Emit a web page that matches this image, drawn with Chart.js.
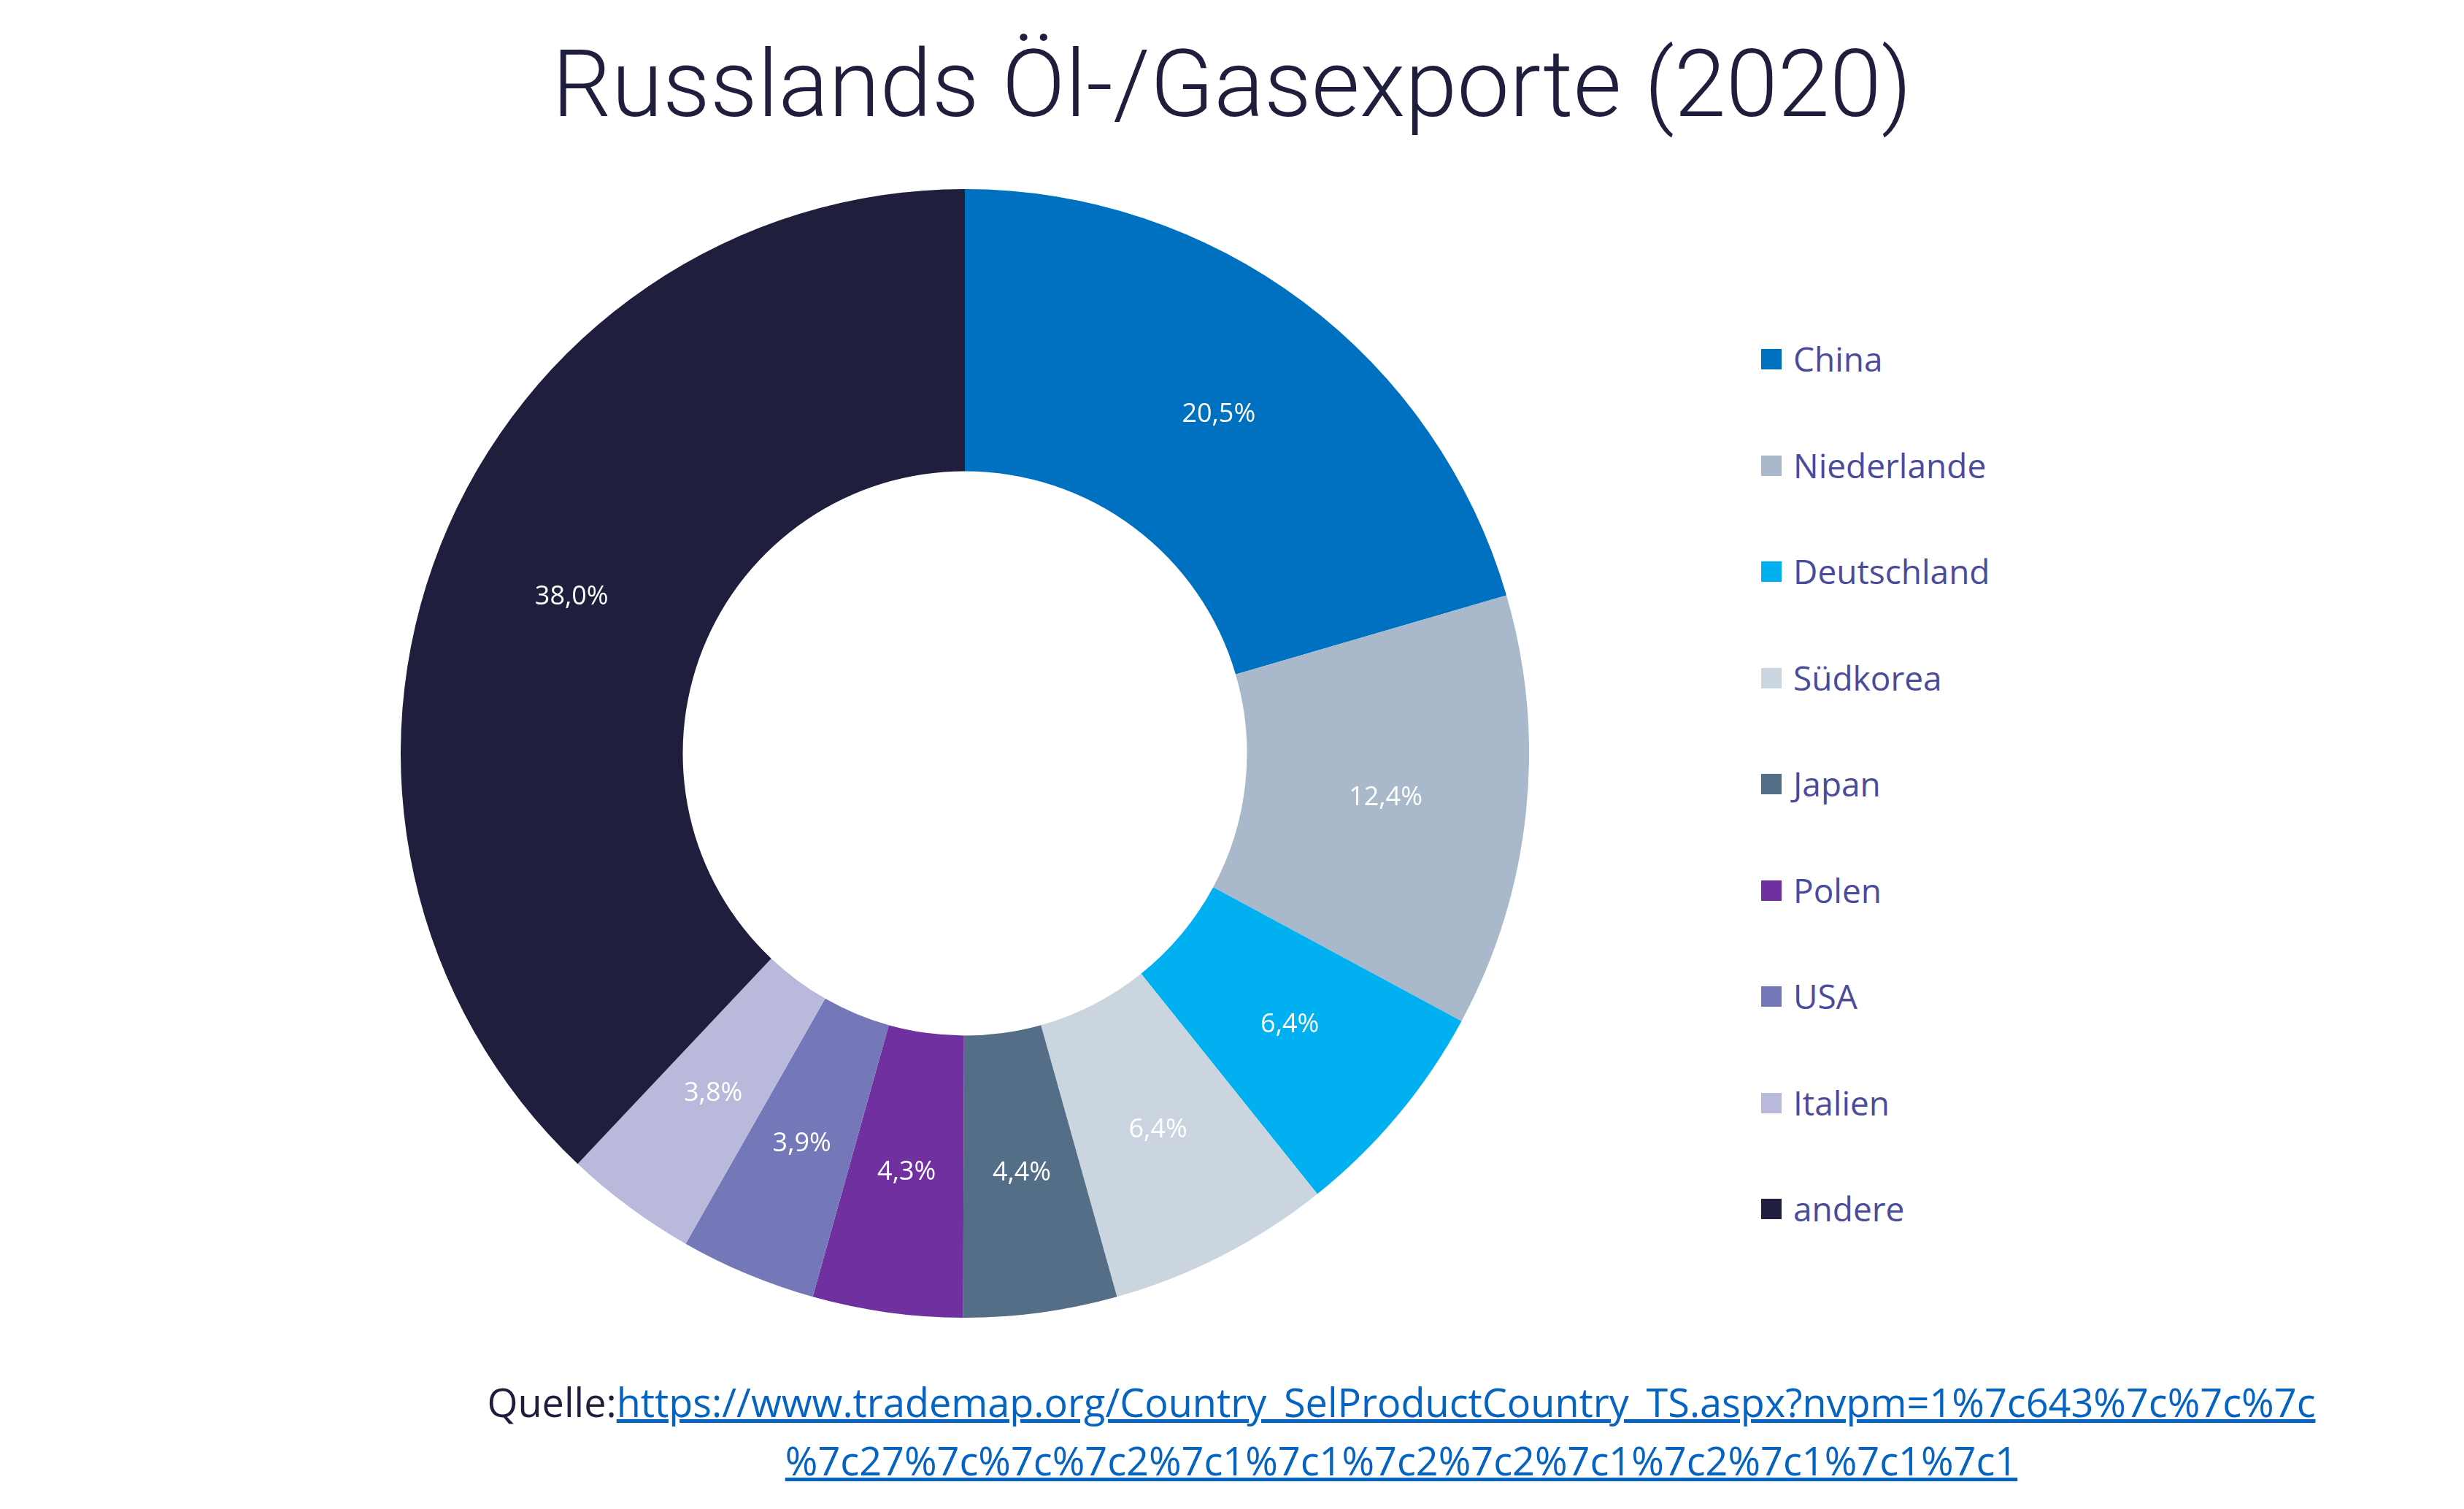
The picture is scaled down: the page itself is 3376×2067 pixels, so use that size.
<!DOCTYPE html>
<html><head><meta charset="utf-8">
<script src="https://cdn.jsdelivr.net/npm/chart.js@4"></script>
<style>
body{margin:0;width:3376px;height:2067px;background:#fff;position:relative;overflow:hidden;font-family:"Open Sans",sans-serif}
#title{position:absolute;top:40px;left:0;width:3376px;text-align:center;font-family:Roboto;font-weight:300;font-size:128px;color:#1F1F3D}
#wrap{position:absolute;left:549px;top:259px;width:1546px;height:1546px}
#legend{position:absolute;left:2413px;top:460px}
.li{height:145.5px;display:flex;align-items:flex-start;font-size:46px;color:#4B4B9B}
.sw{width:28px;height:28px;margin-right:16px;margin-top:18px}
#src{position:absolute;top:1880px;left:580px;width:2680px;text-align:center;font-size:54px;line-height:80px;color:#1F1F3D}
#src a{color:#0563C1;text-decoration:underline}
</style></head><body>
<div id="title">Russlands Öl-/Gasexporte (2020)</div>
<div id="wrap"><canvas id="c"></canvas></div>
<div id="legend"></div>
<div id="src">Quelle:<a>https://www.trademap.org/Country_SelProductCountry_TS.aspx?nvpm=1%7c643%7c%7c%7c<br>%7c27%7c%7c%7c2%7c1%7c1%7c2%7c2%7c1%7c2%7c1%7c1%7c1</a></div>
<script>
const labels=["China","Niederlande","Deutschland","Südkorea","Japan","Polen","USA","Italien","andere"];
const values=[20.5,12.4,6.4,6.4,4.4,4.3,3.9,3.8,38.0];
const colors=["#0070C0","#A9B8CA","#00B0F0","#CBD5E0","#546E87","#7030A0","#7477B8","#B9B9DB","#1F1F3D"];
const lg=document.getElementById('legend');
labels.forEach((l,i)=>{lg.innerHTML+=`<div class="li"><div class="sw" style="background:${colors[i]}"></div>${l}</div>`;});
const lbl={id:'lbl',afterDatasetsDraw(ch){const ctx=ch.ctx;ch.getDatasetMeta(0).data.forEach((a,i)=>{const p=a.tooltipPosition();ctx.save();ctx.fillStyle='#fff';ctx.font='36px "Open Sans"';ctx.textAlign='center';ctx.textBaseline='middle';ctx.fillText(values[i].toFixed(1).replace('.',',')+'%',p.x,p.y);ctx.restore();});}};
new Chart(document.getElementById('c'),{type:'doughnut',data:{labels,datasets:[{data:values,backgroundColor:colors,borderWidth:0}]},
options:{responsive:true,maintainAspectRatio:false,animation:false,cutout:'50%',layout:{padding:0},plugins:{legend:{display:false},tooltip:{enabled:false}}},plugins:[lbl]});
</script></body></html>
